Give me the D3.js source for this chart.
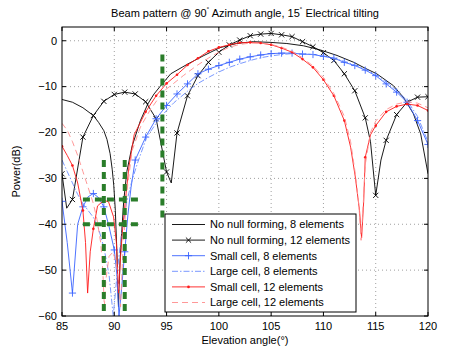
<!DOCTYPE html>
<html>
<head>
<meta charset="utf-8">
<script src="https://cdn.jsdelivr.net/npm/d3@7"></script>
<style>
  body { margin: 0; background: #fff; }
  svg { display: block; font-family: "Liberation Sans", Arial, sans-serif; }
</style>
</head>
<body>
<div id="chart"></div>
<script>
// ---- data (angle in degrees, power in dB) ----
const noNull8Angle = [85, 86, 87, 88, 88.5, 89, 89.3, 89.6, 89.8, 89.95, 90.1, 90.25, 90.4, 90.55, 90.7, 90.9, 91.2, 91.7, 92.5, 93.2, 93.8, 94.4, 95.4, 97, 98.5, 100.1, 101.7, 103.3, 104.9, 106.5, 108.1, 109.7, 111.3, 112.9, 114, 115.1, 116.7, 117.7, 118.6, 119.3, 120]
const noNull8Db = [-12.8, -13.4, -14.6, -16.3, -17.8, -19.6, -21.5, -24.6, -28, -31.5, -37, -46, -58, -48, -42, -35, -28.5, -23, -17.4, -13.8, -11.6, -9.9, -7.2, -5.1, -3.3, -1.5, -0.6, -0.2, -0.35, -0.6, -1.1, -2.0, -3.2, -4.7, -6, -7.2, -9.8, -12.5, -15.9, -20.3, -29]

const noNull12Angle = [85, 85.45, 86, 87, 88, 89, 90, 91, 92, 93, 94, 95, 95.45, 96, 97, 98, 99, 100, 101, 102, 103, 104, 105, 106, 107, 108, 109, 110, 111, 112, 113, 114, 114.5, 115, 115.5, 116, 117, 118, 119, 120]
const noNull12Db = [-29, -36.5, -34.6, -21, -16.3, -13.2, -11.7, -11.2, -11.6, -13.3, -17, -28.6, -31, -20.1, -12, -7.6, -4.7, -2.5, -0.9, 0.15, 1.1, 1.45, 1.6, 1.3, 0.9, -0.2, -1.3, -2.6, -4.3, -7.2, -10.9, -16.8, -22, -33.7, -26, -21.7, -16.1, -13.4, -12.3, -12.2]

const smallCell8Angle = [85, 85.5, 86, 86.5, 87, 87.5, 88, 88.5, 89, 89.5, 90, 90.25, 90.45, 90.7, 91, 91.3, 91.6, 92, 93, 94, 95, 96, 97, 98, 99, 100, 101, 102, 103, 104, 105, 106, 107, 108, 109, 110, 111, 112, 113, 114, 115, 116, 117, 118, 119, 120]
const smallCell8Db = [-35, -44, -55, -40, -36.2, -34, -33.3, -34.2, -36.2, -40.5, -45.6, -51, -60, -54, -46, -38, -32, -26, -21, -17, -14.1, -11.6, -9.4, -7.2, -6.2, -5.4, -4.7, -4, -3.5, -3.1, -2.8, -2.7, -2.7, -2.9, -3.0, -3.4, -3.8, -4.7, -5.4, -6.4, -7.6, -9.4, -11.2, -13.4, -17.4, -22.6]

const largeCell8Angle = [85, 85.5, 86, 86.5, 87, 87.5, 88, 88.5, 89, 89.5, 89.9, 90.3, 90.7, 91.2, 91.7, 92.2, 93.1, 94.4, 95.7, 97, 98, 99, 100, 101, 102, 103, 104, 105, 106, 107, 108, 109, 110, 111, 112, 113, 114, 115, 116, 117, 118, 119, 120]
const largeCell8Db = [-26, -28.5, -31, -33.5, -35.5, -37, -38.5, -41, -45, -51, -60, -50, -42, -35, -30.4, -26.8, -21, -16.7, -13.5, -11, -9.3, -8, -6.8, -5.8, -5, -4.3, -3.7, -3.3, -3.0, -2.8, -2.8, -3.0, -3.3, -3.8, -4.5, -5.3, -6.2, -7.4, -9.0, -10.8, -13, -16.5, -22]

const smallCell12Angle = [85, 85.5, 86, 86.5, 87, 87.25, 87.45, 87.7, 88, 88.4, 89, 89.45, 89.93, 90.2, 90.4, 90.6, 90.8, 91.05, 91.4, 91.9, 93, 94, 95, 96, 97, 98, 99, 100, 101, 102, 103, 104, 105, 106, 107, 108, 109, 110, 111, 112, 112.6, 113.05, 113.45, 113.65, 113.85, 114, 114.5, 115, 116, 117, 118, 119, 120]
const smallCell12Db = [-23, -25, -27.2, -31, -37, -44, -55, -46, -41, -36, -34.8, -35.1, -38.4, -44, -55, -47, -41, -35, -27.5, -20.5, -15.5, -12, -9.3, -7.4, -5.3, -3.8, -2.3, -1.45, -0.87, -0.43, -0.36, -0.5, -0.87, -1.6, -2.5, -4, -5.8, -8.5, -12, -17.4, -23.2, -29.7, -37, -43, -35, -25.4, -20.5, -18.5, -15.5, -14.3, -13.8, -14.1, -15.2]

const largeCell12Angle = [85, 85.5, 86, 86.5, 87, 87.5, 88, 88.35, 88.7, 88.9, 89.05, 89.2, 89.5, 89.9, 90.3, 90.6, 90.8, 91.2, 91.7, 92.5, 93.4, 94.7, 95.4, 96.6, 97.9, 99.2, 100, 101, 102, 103, 104, 105, 106, 107, 108, 109, 110, 111, 112, 112.6, 113.05, 113.4, 113.6, 113.8, 114, 114.5, 115, 116, 117, 118, 119, 120]
const largeCell12Db = [-18, -19.5, -22, -25, -28.5, -32, -35.5, -39, -44, -50, -58, -52, -47, -46, -50, -58, -47, -33, -24, -18.8, -15.2, -11, -9.8, -7.6, -5.4, -3.5, -2.5, -1.4, -0.8, -0.5, -0.5, -0.8, -1.4, -2.3, -3.7, -5.5, -8, -11.5, -16.5, -22, -29, -36, -43.5, -36, -27, -20, -17.5, -15, -13.8, -13.3, -13.6, -14.6]

// green dashed annotation segments: [x0, y0, x1, y1] in data units
const greenSegs = [[89, -26, 89, -60], [91, -26, 91, -60], [94.6, -3, 94.6, -39.5], [87, -34.6, 92.7, -34.6], [87, -40, 92.7, -40]]

const xTicks = [85, 90, 95, 100, 105, 110, 115, 120]
const yTicks = [0, -10, -20, -30, -40, -50, -60]

const series = [
  { name: 'No null forming, 8 elements', angle: noNull8Angle, db: noNull8Db, color: '#000', dash: null, marker: null },
  { name: 'No null forming, 12 elements', angle: noNull12Angle, db: noNull12Db, color: '#000', dash: null, marker: 'x' },
  { name: 'Small cell, 8 elements', angle: smallCell8Angle, db: smallCell8Db, color: '#3a63ff', dash: null, marker: '+' },
  { name: 'Large cell, 8 elements', angle: largeCell8Angle, db: largeCell8Db, color: '#6a8cff', dash: '6,2,1.5,2', marker: null },
  { name: 'Small cell, 12 elements', angle: smallCell12Angle, db: smallCell12Db, color: '#ff1a1a', dash: null, marker: 'dot' },
  { name: 'Large cell, 12 elements', angle: largeCell12Angle, db: largeCell12Db, color: '#ff8c8c', dash: '6,4', marker: null }
]

const W = 472
const H = 355
const M = { left: 62, right: 44, top: 27, bottom: 39 }
const iw = W - M.left - M.right
const ih = H - M.top - M.bottom

const svg = d3.select('#chart').append('svg')
  .attr('width', W)
  .attr('height', H)

const x = d3.scaleLinear().domain([85, 120]).range([M.left, M.left + iw])
const y = d3.scaleLinear().domain([-60, 3]).range([M.top + ih, M.top])

// grid (dotted)
const grid = svg.append('g')
grid.selectAll('.gx').data(xTicks.slice(1, -1)).enter().append('line')
  .attr('x1', d => x(d)).attr('x2', d => x(d))
  .attr('y1', M.top).attr('y2', M.top + ih)
  .attr('stroke', '#888').attr('stroke-width', 0.8).attr('stroke-dasharray', '1,3')
grid.selectAll('.gy').data(yTicks.slice(0, -1)).enter().append('line')
  .attr('x1', M.left).attr('x2', M.left + iw)
  .attr('y1', d => y(d)).attr('y2', d => y(d))
  .attr('stroke', '#888').attr('stroke-width', 0.8).attr('stroke-dasharray', '1,3')

svg.append('clipPath').attr('id', 'clip')
  .append('rect').attr('x', M.left).attr('y', M.top).attr('width', iw).attr('height', ih)

const plot = svg.append('g').attr('clip-path', 'url(#clip)')
const line = d3.line().x(d => x(d[0])).y(d => y(d[1]))

function drawMarker (g, type, cx, cy, color) {
  if (type === 'x') {
    const s = 2.6
    g.append('path').attr('d', `M${cx - s},${cy - s}L${cx + s},${cy + s}M${cx - s},${cy + s}L${cx + s},${cy - s}`)
      .attr('stroke', color).attr('stroke-width', 0.9).attr('fill', 'none')
  } else if (type === '+') {
    const s = 3.6
    g.append('path').attr('d', `M${cx - s},${cy}L${cx + s},${cy}M${cx},${cy - s}L${cx},${cy + s}`)
      .attr('stroke', color).attr('stroke-width', 0.9).attr('fill', 'none')
  } else if (type === 'dot') {
    g.append('circle').attr('cx', cx).attr('cy', cy).attr('r', 1.3).attr('fill', color)
  }
}

series.forEach(s => {
  const pts = s.angle.map((a, i) => [a, s.db[i]])
  plot.append('path')
    .attr('d', line(pts))
    .attr('fill', 'none')
    .attr('stroke', s.color)
    .attr('stroke-width', 0.9)
    .attr('stroke-dasharray', s.dash)
  if (s.marker) {
    const mg = plot.append('g')
    pts.filter(p => Number.isInteger(p[0])).forEach(p => drawMarker(mg, s.marker, x(p[0]), y(p[1]), s.color))
  }
})

// green dashed annotations
plot.selectAll('.green').data(greenSegs).enter().append('line')
  .attr('x1', d => x(d[0])).attr('y1', d => y(d[1]))
  .attr('x2', d => x(d[2])).attr('y2', d => y(d[3]))
  .attr('stroke', '#2a7d2a').attr('stroke-width', 4).attr('stroke-dasharray', '7,5')

// axes box with inward ticks
const axes = svg.append('g')
axes.append('rect').attr('x', M.left).attr('y', M.top).attr('width', iw).attr('height', ih)
  .attr('fill', 'none').attr('stroke', '#000').attr('stroke-width', 1)
const tl = 4
xTicks.forEach(t => {
  axes.append('line').attr('x1', x(t)).attr('x2', x(t)).attr('y1', M.top + ih).attr('y2', M.top + ih - tl).attr('stroke', '#000')
  axes.append('line').attr('x1', x(t)).attr('x2', x(t)).attr('y1', M.top).attr('y2', M.top + tl).attr('stroke', '#000')
  axes.append('text').attr('x', x(t)).attr('y', M.top + ih + 14)
    .attr('text-anchor', 'middle').attr('font-size', 11).text(t)
})
yTicks.forEach(t => {
  axes.append('line').attr('x1', M.left).attr('x2', M.left + tl).attr('y1', y(t)).attr('y2', y(t)).attr('stroke', '#000')
  axes.append('line').attr('x1', M.left + iw).attr('x2', M.left + iw - tl).attr('y1', y(t)).attr('y2', y(t)).attr('stroke', '#000')
  axes.append('text').attr('x', M.left - 5).attr('y', y(t)).attr('dy', '0.35em')
    .attr('text-anchor', 'end').attr('font-size', 11).text(t === 0 ? '0' : '\u2212' + Math.abs(t))
})

// labels
svg.append('text').attr('x', M.left + iw / 2).attr('y', 344)
  .attr('text-anchor', 'middle').attr('font-size', 11).text('Elevation angle(\u00B0)')
svg.append('text').attr('transform', `translate(20,${M.top + ih / 2}) rotate(-90)`)
  .attr('text-anchor', 'middle').attr('font-size', 11).text('Power(dB)')

const title = svg.append('text').attr('x', M.left + iw / 2).attr('y', 17)
  .attr('text-anchor', 'middle').attr('font-size', 11)
title.append('tspan').text('Beam pattern @ 90')
title.append('tspan').attr('font-size', 8).attr('dy', -4).text('\u02DA')
title.append('tspan').attr('dy', 4).text(' Azimuth angle, 15')
title.append('tspan').attr('font-size', 8).attr('dy', -4).text('\u02DA')
title.append('tspan').attr('dy', 4).text(' Electrical tilting')

// legend
const lg = svg.append('g')
lg.append('rect').attr('x', 165).attr('y', 214).attr('width', 191).attr('height', 98)
  .attr('fill', '#fff').attr('stroke', '#000').attr('stroke-width', 1)
series.forEach((s, i) => {
  const ly = 224.5 + i * 15.6
  lg.append('line').attr('x1', 172).attr('x2', 205).attr('y1', ly).attr('y2', ly)
    .attr('stroke', s.color).attr('stroke-width', 0.9).attr('stroke-dasharray', s.dash)
  if (s.marker) drawMarker(lg, s.marker, 188.5, ly, s.color)
  lg.append('text').attr('x', 210).attr('y', ly).attr('dy', '0.35em')
    .attr('font-size', 11).text(s.name)
})
</script>
</body>
</html>
